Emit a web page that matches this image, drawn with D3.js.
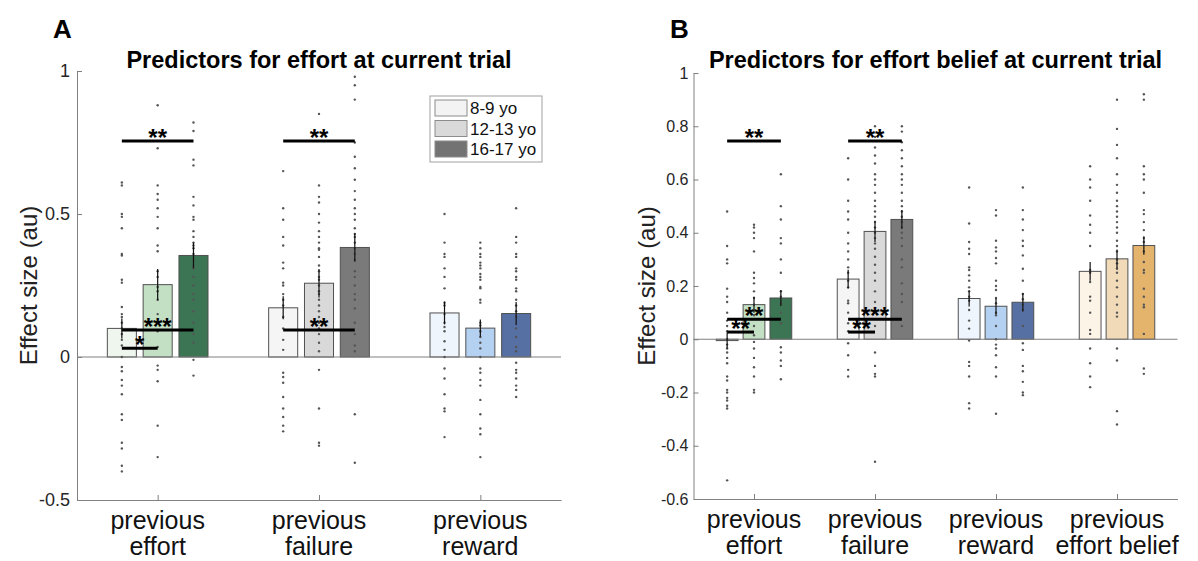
<!DOCTYPE html>
<html>
<head>
<meta charset="utf-8">
<script src="https://cdn.jsdelivr.net/npm/d3@7"></script>
<style>
  body { margin: 0; background: #fff; }
  svg { display: block; }
  text { font-family: "Liberation Sans", Arial, Helvetica, sans-serif; }
</style>
</head>
<body>
<svg id="fig" width="1198" height="561"></svg>
<script>
'use strict';

// ---- data ----
var ageGroups = ['8-9 yo', '12-13 yo', '16-17 yo'];

var catsA = [['previous', 'effort'], ['previous', 'failure'], ['previous', 'reward']];
var meansA = [[0.100, 0.253, 0.355], [0.172, 0.258, 0.383], [0.154, 0.101, 0.152]];
var semA = [[0.035, 0.055, 0.045], [0.04, 0.05, 0.05], [0.04, 0.03, 0.04]];

var catsB = [['previous', 'effort'], ['previous', 'failure'], ['previous', 'reward'], ['previous', 'effort belief']];
var meansB = [[-0.005, 0.130, 0.155], [0.226, 0.405, 0.450], [0.153, 0.124, 0.139], [0.255, 0.302, 0.352]];
var semB = [[0.03, 0.03, 0.03], [0.035, 0.04, 0.035], [0.03, 0.03, 0.035], [0.035, 0.035, 0.035]];

// individual subject estimates
var dotsA_effort = [
  [0.61, 0.60, 0.50, 0.49, 0.45, 0.36, 0.355, 0.27, 0.26, 0.175, 0.15, 0.14, 0.12, 0.10, 0.08, 0.06, 0.04, 0.0, -0.035, -0.05, -0.08, -0.10, -0.13, -0.20, -0.22, -0.30, -0.32, -0.38, -0.40],
  [0.88, 0.73, 0.60, 0.57, 0.55, 0.52, 0.49, 0.45, 0.39, 0.37, 0.30, 0.28, 0.245, 0.23, 0.20, 0.15, 0.09, 0.035, -0.03, -0.045, -0.085, -0.24, -0.35],
  [0.82, 0.79, 0.69, 0.67, 0.56, 0.53, 0.49, 0.48, 0.44, 0.42, 0.40, 0.39, 0.38, 0.36, 0.34, 0.32, 0.31, 0.28, 0.25, 0.22, 0.20, 0.16, 0.12, 0.08, 0.05, -0.01, -0.065]
];
var dotsA_failure = [
  [0.65, 0.52, 0.48, 0.42, 0.39, 0.33, 0.31, 0.26, 0.25, 0.22, 0.20, 0.18, 0.14, 0.10, 0.06, 0.025, -0.055, -0.07, -0.09, -0.14, -0.18, -0.21, -0.24, -0.26],
  [0.85, 0.60, 0.56, 0.54, 0.50, 0.47, 0.44, 0.42, 0.40, 0.38, 0.375, 0.35, 0.32, 0.30, 0.28, 0.27, 0.25, 0.23, 0.22, 0.20, 0.18, 0.16, 0.14, 0.12, 0.10, 0.08, 0.05, 0.02, -0.045, -0.18, -0.30, -0.31],
  [0.98, 0.95, 0.90, 0.75, 0.70, 0.66, 0.62, 0.58, 0.55, 0.52, 0.50, 0.48, 0.45, 0.43, 0.42, 0.40, 0.38, 0.36, 0.34, 0.30, 0.28, 0.25, 0.22, 0.20, 0.17, 0.12, 0.08, 0.04, 0.02, -0.20, -0.37]
];
var dotsA_reward = [
  [0.50, 0.40, 0.36, 0.35, 0.31, 0.28, 0.24, 0.19, 0.18, 0.15, 0.12, 0.105, 0.09, 0.055, 0.025, 0.0, -0.04, -0.075, -0.13, -0.18, -0.19, -0.28],
  [0.40, 0.38, 0.36, 0.35, 0.33, 0.32, 0.31, 0.29, 0.28, 0.27, 0.245, 0.24, 0.20, 0.19, 0.12, 0.11, 0.09, 0.07, 0.05, 0.03, 0.0, -0.04, -0.055, -0.08, -0.10, -0.15, -0.20, -0.25, -0.27, -0.35],
  [0.52, 0.42, 0.40, 0.36, 0.35, 0.31, 0.30, 0.28, 0.27, 0.24, 0.23, 0.20, 0.18, 0.16, 0.14, 0.10, 0.07, 0.035, 0.02, -0.02, -0.045, -0.055, -0.075, -0.10, -0.115, -0.14]
];
var dotsB_effort = [
  [0.48, 0.35, 0.30, 0.285, 0.19, 0.16, 0.14, 0.10, 0.07, 0.05, 0.03, 0.0, -0.02, -0.035, -0.05, -0.07, -0.09, -0.14, -0.155, -0.19, -0.20, -0.22, -0.23, -0.25, -0.26, -0.53],
  [0.43, 0.42, 0.40, 0.38, 0.33, 0.25, 0.23, 0.21, 0.18, 0.155, 0.13, 0.09, 0.05, 0.015, -0.01, -0.035, -0.07, -0.105, -0.14, -0.19, -0.20],
  [0.62, 0.50, 0.45, 0.38, 0.36, 0.30, 0.25, 0.18, 0.16, 0.135, 0.10, 0.06, -0.03, -0.05, -0.08, -0.10, -0.15]
];
var dotsB_failure = [
  [0.68, 0.60, 0.52, 0.48, 0.45, 0.40, 0.36, 0.33, 0.30, 0.27, 0.25, 0.22, 0.195, 0.145, 0.135, 0.10, 0.06, 0.03, -0.015, -0.06, -0.115, -0.14],
  [0.80, 0.76, 0.72, 0.69, 0.66, 0.62, 0.60, 0.58, 0.55, 0.52, 0.50, 0.48, 0.46, 0.44, 0.42, 0.40, 0.38, 0.36, 0.34, 0.31, 0.28, 0.25, 0.22, 0.18, 0.14, 0.10, 0.05, -0.05, -0.10, -0.13, -0.14, -0.46],
  [0.80, 0.78, 0.74, 0.71, 0.68, 0.65, 0.62, 0.60, 0.58, 0.55, 0.52, 0.50, 0.48, 0.46, 0.44, 0.42, 0.40, 0.38, 0.35, 0.30, 0.27, 0.21, 0.17, 0.14, 0.05]
];
var dotsB_reward = [
  [0.57, 0.435, 0.365, 0.34, 0.32, 0.27, 0.26, 0.24, 0.22, 0.195, 0.18, 0.16, 0.145, 0.11, 0.07, 0.04, -0.005, -0.085, -0.10, -0.14, -0.24, -0.26],
  [0.485, 0.465, 0.37, 0.345, 0.33, 0.305, 0.285, 0.22, 0.20, 0.185, 0.155, 0.135, 0.10, 0.09, 0.05, 0.0, -0.02, -0.035, -0.06, -0.105, -0.14, -0.28],
  [0.57, 0.485, 0.45, 0.41, 0.37, 0.35, 0.315, 0.265, 0.22, 0.17, 0.15, 0.13, 0.11, 0.05, -0.015, -0.04, -0.10, -0.12, -0.16, -0.20, -0.21]
];
var dotsB_belief = [
  [0.65, 0.60, 0.57, 0.52, 0.465, 0.43, 0.40, 0.35, 0.26, 0.25, 0.215, 0.16, 0.145, 0.10, 0.035, 0.02, -0.035, -0.09, -0.14, -0.18],
  [0.90, 0.79, 0.73, 0.68, 0.62, 0.58, 0.55, 0.52, 0.50, 0.48, 0.46, 0.44, 0.42, 0.40, 0.37, 0.35, 0.33, 0.30, 0.285, 0.265, 0.25, 0.22, 0.195, 0.16, 0.13, 0.10, 0.085, -0.035, -0.08, -0.27, -0.32],
  [0.92, 0.90, 0.65, 0.62, 0.60, 0.55, 0.485, 0.47, 0.44, 0.41, 0.38, 0.365, 0.33, 0.29, 0.26, 0.25, 0.19, 0.16, 0.13, 0.12, 0.02, -0.11, -0.13]
];

// significance brackets: category index, from group, to group, y value, label
var sigA = [
  { cat: 0, from: 0, to: 2, y: 0.755, label: '**' },
  { cat: 0, from: 0, to: 2, y: 0.094, label: '***' },
  { cat: 0, from: 0, to: 1, y: 0.031, label: '*' },
  { cat: 1, from: 0, to: 2, y: 0.755, label: '**' },
  { cat: 1, from: 0, to: 2, y: 0.094, label: '**' }
];
var sigB = [
  { cat: 0, from: 0, to: 2, y: 0.745, label: '**' },
  { cat: 0, from: 0, to: 2, y: 0.075, label: '**' },
  { cat: 0, from: 0, to: 1, y: 0.027, label: '**' },
  { cat: 1, from: 0, to: 2, y: 0.745, label: '**' },
  { cat: 1, from: 0, to: 2, y: 0.075, label: '***' },
  { cat: 1, from: 0, to: 1, y: 0.027, label: '**' }
];

var colEffort = ['#eef6ee', '#c3e0c5', '#3b7553'];
var colFailure = ['#f5f5f5', '#d9d9d9', '#7a7a7a'];
var colReward = ['#eef5fc', '#b5d1f2', '#5670a4'];
var colBelief = ['#fdf4e8', '#f1dab8', '#e5b46c'];
var colLegend = ['#f3f3f3', '#d9d9d9', '#737373'];

var ticksA = [-0.5, 0, 0.5, 1];
var ticksB = [-0.6, -0.4, -0.2, 0, 0.2, 0.4, 0.6, 0.8, 1];

var svg = d3.select('#fig');
var axisGray = '#808080';
var groupStep = 0.222;   // offset between age-group bars (category units)
var barW = 0.18;         // bar width (category units)

function drawPanel(p) {
    var x = d3.scaleLinear().domain([0.5, p.cats.length + 0.5]).range(p.xr);
    var y = d3.scaleLinear().domain(p.yd).range(p.yr);
    var g = svg.append('g');

    function bx(c, k) { return x(c + 1 + (k - 1) * groupStep); }

    // bars
    p.means.forEach(function (row, c) {
        g.selectAll(null).data(row).enter().append('rect')
            .attr('x', function (d, k) { return x(c + 1 + (k - 1) * groupStep - barW / 2); })
            .attr('width', x(barW) - x(0))
            .attr('y', function (d) { return y(Math.max(d, 0)); })
            .attr('height', function (d) { return Math.abs(y(d) - y(0)); })
            .attr('fill', function (d, k) { return p.colors[c][k]; })
            .attr('stroke', '#505050')
            .attr('stroke-width', 1);
    });

    // zero baseline
    g.append('line')
        .attr('x1', p.xr[0]).attr('x2', p.xr[1])
        .attr('y1', y(0)).attr('y2', y(0))
        .attr('stroke', axisGray).attr('stroke-width', 1);

    // subject dots
    p.dots.forEach(function (grp, c) {
        grp.forEach(function (vals, k) {
            g.selectAll(null).data(vals).enter().append('circle')
                .attr('cx', bx(c, k))
                .attr('cy', function (d) { return y(d); })
                .attr('r', 1.2)
                .attr('fill', '#555');
        });
    });

    // error bars
    p.means.forEach(function (row, c) {
        g.selectAll(null).data(row).enter().append('line')
            .attr('x1', function (d, k) { return bx(c, k); })
            .attr('x2', function (d, k) { return bx(c, k); })
            .attr('y1', function (d, k) { return y(d - p.sem[c][k]); })
            .attr('y2', function (d, k) { return y(d + p.sem[c][k]); })
            .attr('stroke', '#111').attr('stroke-width', 1.2);
    });

    // axes
    var ya = g.append('g')
        .attr('transform', 'translate(' + p.xr[0] + ',0)')
        .call(d3.axisLeft(y).tickValues(p.ticks).tickSizeInner(-5).tickSizeOuter(0)
            .tickPadding(p.tickPad).tickFormat(function (d) { return String(+d.toFixed(1)); }));
    ya.select('.domain').attr('stroke', axisGray);
    ya.selectAll('.tick line').attr('stroke', axisGray);
    ya.selectAll('.tick text').attr('fill', '#262626').style('font-size', p.tickFont + 'px');

    var xa = g.append('g')
        .attr('transform', 'translate(0,' + p.yr[0] + ')')
        .call(d3.axisBottom(x).tickValues(d3.range(1, p.cats.length + 1))
            .tickSizeInner(-5).tickSizeOuter(0).tickFormat(''));
    xa.select('.domain').attr('stroke', axisGray);
    xa.selectAll('.tick line').attr('stroke', axisGray);

    // category labels
    p.cats.forEach(function (lines, c) {
        var t = g.append('text')
            .attr('x', x(c + 1)).attr('y', p.yr[0] + 29)
            .attr('text-anchor', 'middle')
            .style('font-size', '25px').attr('fill', '#111');
        lines.forEach(function (s, i) {
            t.append('tspan').attr('x', x(c + 1)).attr('dy', i === 0 ? 0 : 26).text(s);
        });
    });

    // y label
    var ymid = (p.yr[0] + p.yr[1]) / 2;
    g.append('text')
        .attr('transform', 'translate(' + p.ylabX + ',' + ymid + ') rotate(-90)')
        .attr('text-anchor', 'middle')
        .style('font-size', '24px').attr('fill', '#222')
        .text('Effect size (au)');

    // title & panel letter
    g.append('text')
        .attr('x', (p.xr[0] + p.xr[1]) / 2).attr('y', 68)
        .attr('text-anchor', 'middle')
        .style('font-size', '23.5px').style('font-weight', 'bold')
        .text(p.title);
    g.append('text')
        .attr('x', p.letterX).attr('y', 38)
        .style('font-size', '26px').style('font-weight', 'bold')
        .text(p.letter);

    // significance lines
    p.sig.forEach(function (s) {
        var x1 = bx(s.cat, s.from), x2 = bx(s.cat, s.to);
        g.append('line')
            .attr('x1', x1).attr('x2', x2)
            .attr('y1', y(s.y)).attr('y2', y(s.y))
            .attr('stroke', '#000').attr('stroke-width', 3);
        g.append('text')
            .attr('x', (x1 + x2) / 2).attr('y', y(s.y) + 5)
            .attr('text-anchor', 'middle')
            .style('font-size', '24px').style('font-weight', 'bold')
            .text(s.label);
    });

    return { x: x, y: y };
}

drawPanel({
    cats: catsA, means: meansA, sem: semA,
    dots: [dotsA_effort, dotsA_failure, dotsA_reward],
    colors: [colEffort, colFailure, colReward],
    xr: [77, 561], yd: [-0.5, 1], yr: [500, 71], ticks: ticksA, tickFont: 18, tickPad: 7,
    ylabX: 37, title: 'Predictors for effort at current trial', letter: 'A', letterX: 53,
    sig: sigA
});

drawPanel({
    cats: catsB, means: meansB, sem: semB,
    dots: [dotsB_effort, dotsB_failure, dotsB_reward, dotsB_belief],
    colors: [colEffort, colFailure, colReward, colBelief],
    xr: [693.5, 1177.5], yd: [-0.6, 1], yr: [499, 73], ticks: ticksB, tickFont: 16, tickPad: 5,
    ylabX: 655, title: 'Predictors for effort belief at current trial', letter: 'B', letterX: 670,
    sig: sigB
});

// legend (panel A)
var leg = svg.append('g').attr('transform', 'translate(430,96)');
leg.append('rect').attr('width', 112).attr('height', 66)
    .attr('fill', '#fff').attr('stroke', '#a0a0a0').attr('stroke-width', 1);
ageGroups.forEach(function (name, k) {
    leg.append('rect')
        .attr('x', 5).attr('y', 4 + k * 20.5).attr('width', 32).attr('height', 16)
        .attr('fill', colLegend[k]).attr('stroke', '#8c8c8c');
    leg.append('text')
        .attr('x', 40).attr('y', 18 + k * 20.5)
        .style('font-size', '17px').attr('fill', '#111')
        .text(name);
});
</script>
</body>
</html>
